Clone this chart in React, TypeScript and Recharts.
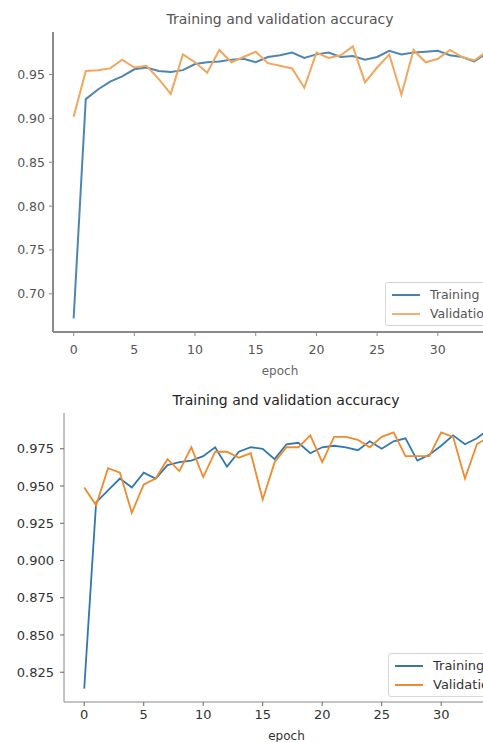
import React from 'react';
import { LineChart, Line, XAxis, YAxis, Legend } from 'recharts';

const epochs = Array.from({ length: 35 }, (_, i) => i);

// first run (upper plot)
const trainAccA = [
  0.672, 0.922, 0.933, 0.942, 0.948, 0.956, 0.958, 0.954, 0.953, 0.955,
  0.962, 0.964, 0.965, 0.967, 0.968, 0.964, 0.970, 0.972, 0.975, 0.969,
  0.973, 0.975, 0.970, 0.971, 0.967, 0.970, 0.977, 0.973, 0.975, 0.976,
  0.977, 0.972, 0.970, 0.965, 0.974,
];
const valAccA = [
  0.902, 0.954, 0.955, 0.957, 0.967, 0.958, 0.960, 0.945, 0.928, 0.973,
  0.964, 0.952, 0.978, 0.964, 0.970, 0.976, 0.963, 0.960, 0.957, 0.935,
  0.975, 0.969, 0.972, 0.982, 0.941, 0.958, 0.973, 0.927, 0.978, 0.964,
  0.968, 0.978, 0.970, 0.966, 0.976,
];

// second run (lower plot)
const trainAccB = [
  0.814, 0.939, 0.947, 0.955, 0.949, 0.959, 0.955, 0.964, 0.966, 0.967,
  0.970, 0.976, 0.963, 0.973, 0.976, 0.975, 0.968, 0.978, 0.979, 0.972,
  0.976, 0.977, 0.976, 0.974, 0.980, 0.975, 0.980, 0.982, 0.967, 0.971,
  0.977, 0.984, 0.978, 0.982, 0.988,
];
const valAccB = [
  0.949, 0.937, 0.962, 0.959, 0.932, 0.951, 0.955, 0.968, 0.960, 0.976,
  0.956, 0.973, 0.973, 0.969, 0.972, 0.941, 0.966, 0.976, 0.976, 0.984,
  0.966, 0.983, 0.983, 0.981, 0.976, 0.983, 0.986, 0.970, 0.970, 0.970,
  0.986, 0.983, 0.955, 0.978, 0.983,
];

const xTicks = [0, 5, 10, 15, 20, 25, 30];
const yTicksA = [0.7, 0.75, 0.8, 0.85, 0.9, 0.95];
const yTicksB = [0.825, 0.85, 0.875, 0.9, 0.925, 0.95, 0.975];

const seriesNames = ['Training', 'Validation'];

const rowsA = epochs.map((e, i) => ({ epoch: e, train: trainAccA[i], val: valAccA[i] }));
const rowsB = epochs.map((e, i) => ({ epoch: e, train: trainAccB[i], val: valAccB[i] }));

const FONT = '"DejaVu Sans", sans-serif';

const makeLegend = (colors: string[], fontSize: number, textColor: string) => () => (
  <div
    style={{
      border: '1px solid #d8d8d8',
      borderRadius: 3,
      background: 'rgba(255,255,255,0.85)',
      padding: '2px 6px',
      fontFamily: FONT,
      fontSize,
      color: textColor,
      lineHeight: '19px',
    }}
  >
    {seriesNames.map((n, i) => (
      <div key={n} style={{ display: 'flex', alignItems: 'center', whiteSpace: 'nowrap' }}>
        <span style={{ display: 'inline-block', width: 28, height: 2, background: colors[i], marginRight: 10 }} />
        {n}
      </div>
    ))}
  </div>
);

export default function App() {
  const tickA = { fontSize: 12.5, fill: '#555', fontFamily: FONT };
  const tickB = { fontSize: 13, fill: '#333', fontFamily: FONT };
  return (
    <div style={{ position: 'absolute', left: 0, top: 0, width: 483, height: 742, overflow: 'hidden', background: '#fff' }}>
      <div style={{ position: 'absolute', left: 280, top: 11, transform: 'translateX(-50%)', whiteSpace: 'nowrap', fontFamily: FONT, fontSize: 14, color: '#555' }}>
        Training and validation accuracy
      </div>
      <div style={{ position: 'absolute', left: 0, top: 0 }}>
        <LineChart width={560} height={380} data={rowsA} margin={{ top: 32, right: 53, bottom: 0, left: 0 }}>
          <XAxis
            xAxisId="top"
            orientation="top"
            dataKey="epoch"
            type="number"
            domain={[-1.7, 35.7]}
            height={0}
            tick={false}
            tickLine={false}
            axisLine={{ stroke: '#8a8a8a', strokeWidth: 2 }}
          />
          <XAxis
            dataKey="epoch"
            type="number"
            domain={[-1.7, 35.7]}
            ticks={xTicks}
            allowDataOverflow
            height={48}
            tick={tickA}
            tickSize={4}
            tickMargin={9}
            axisLine={{ stroke: '#8a8a8a', strokeWidth: 2 }}
            tickLine={{ stroke: '#8a8a8a' }}
            label={{ value: 'epoch', position: 'insideBottom', offset: 5, fontSize: 12, fill: '#666', fontFamily: FONT }}
          />
          <YAxis
            type="number"
            domain={[0.6565, 0.9985]}
            ticks={yTicksA}
            allowDataOverflow
            width={53}
            tick={tickA}
            tickSize={4}
            tickMargin={4}
            tickFormatter={(v: number) => v.toFixed(2)}
            axisLine={{ stroke: '#8a8a8a', strokeWidth: 2 }}
            tickLine={{ stroke: '#8a8a8a' }}
          />
          <Line dataKey="train" name="Training" stroke="#4f86b0" strokeWidth={2} dot={false} isAnimationActive={false} />
          <Line dataKey="val" name="Validation" stroke="#f2a65e" strokeWidth={2} dot={false} isAnimationActive={false} />
          <Legend
            layout="horizontal"
            verticalAlign="middle"
            align="center"
            content={makeLegend(['#4f7fa6', '#f2b070'], 12.5, '#555')}
            wrapperStyle={{ left: 385, top: 282, width: 160, height: 'auto' }}
          />
        </LineChart>
      </div>

      <div style={{ position: 'absolute', left: 286, top: 392, transform: 'translateX(-50%)', whiteSpace: 'nowrap', fontFamily: FONT, fontSize: 14, color: '#222' }}>
        Training and validation accuracy
      </div>
      <div style={{ position: 'absolute', left: 0, top: 380 }}>
        <LineChart width={560} height={362} data={rowsB} margin={{ top: 33, right: 51, bottom: 0, left: 0 }}>
          <XAxis
            xAxisId="top"
            orientation="top"
            dataKey="epoch"
            type="number"
            domain={[-1.7, 35.7]}
            height={0}
            tick={false}
            tickLine={false}
            axisLine={{ stroke: '#888', strokeWidth: 1 }}
          />
          <XAxis
            dataKey="epoch"
            type="number"
            domain={[-1.7, 35.7]}
            ticks={xTicks}
            allowDataOverflow
            height={40}
            tick={tickB}
            tickSize={4}
            tickMargin={4}
            axisLine={{ stroke: '#888' }}
            tickLine={{ stroke: '#666' }}
            label={{ value: 'epoch', position: 'insideBottom', offset: 2, fontSize: 12, fill: '#333', fontFamily: FONT }}
          />
          <YAxis
            type="number"
            domain={[0.805, 0.999]}
            ticks={yTicksB}
            allowDataOverflow
            width={64}
            tick={tickB}
            tickSize={4}
            tickMargin={6}
            tickFormatter={(v: number) => v.toFixed(3)}
            axisLine={{ stroke: '#888' }}
            tickLine={{ stroke: '#666' }}
          />
          <Line dataKey="train" name="Training" stroke="#2f78b2" strokeWidth={1.8} dot={false} isAnimationActive={false} />
          <Line dataKey="val" name="Validation" stroke="#f28a2c" strokeWidth={1.8} dot={false} isAnimationActive={false} />
          <Legend
            layout="horizontal"
            verticalAlign="middle"
            align="center"
            content={makeLegend(['#3f7596', '#ef8a33'], 13, '#333')}
            wrapperStyle={{ left: 388, top: 273, width: 160, height: 'auto' }}
          />
        </LineChart>
      </div>
    </div>
  );
}
